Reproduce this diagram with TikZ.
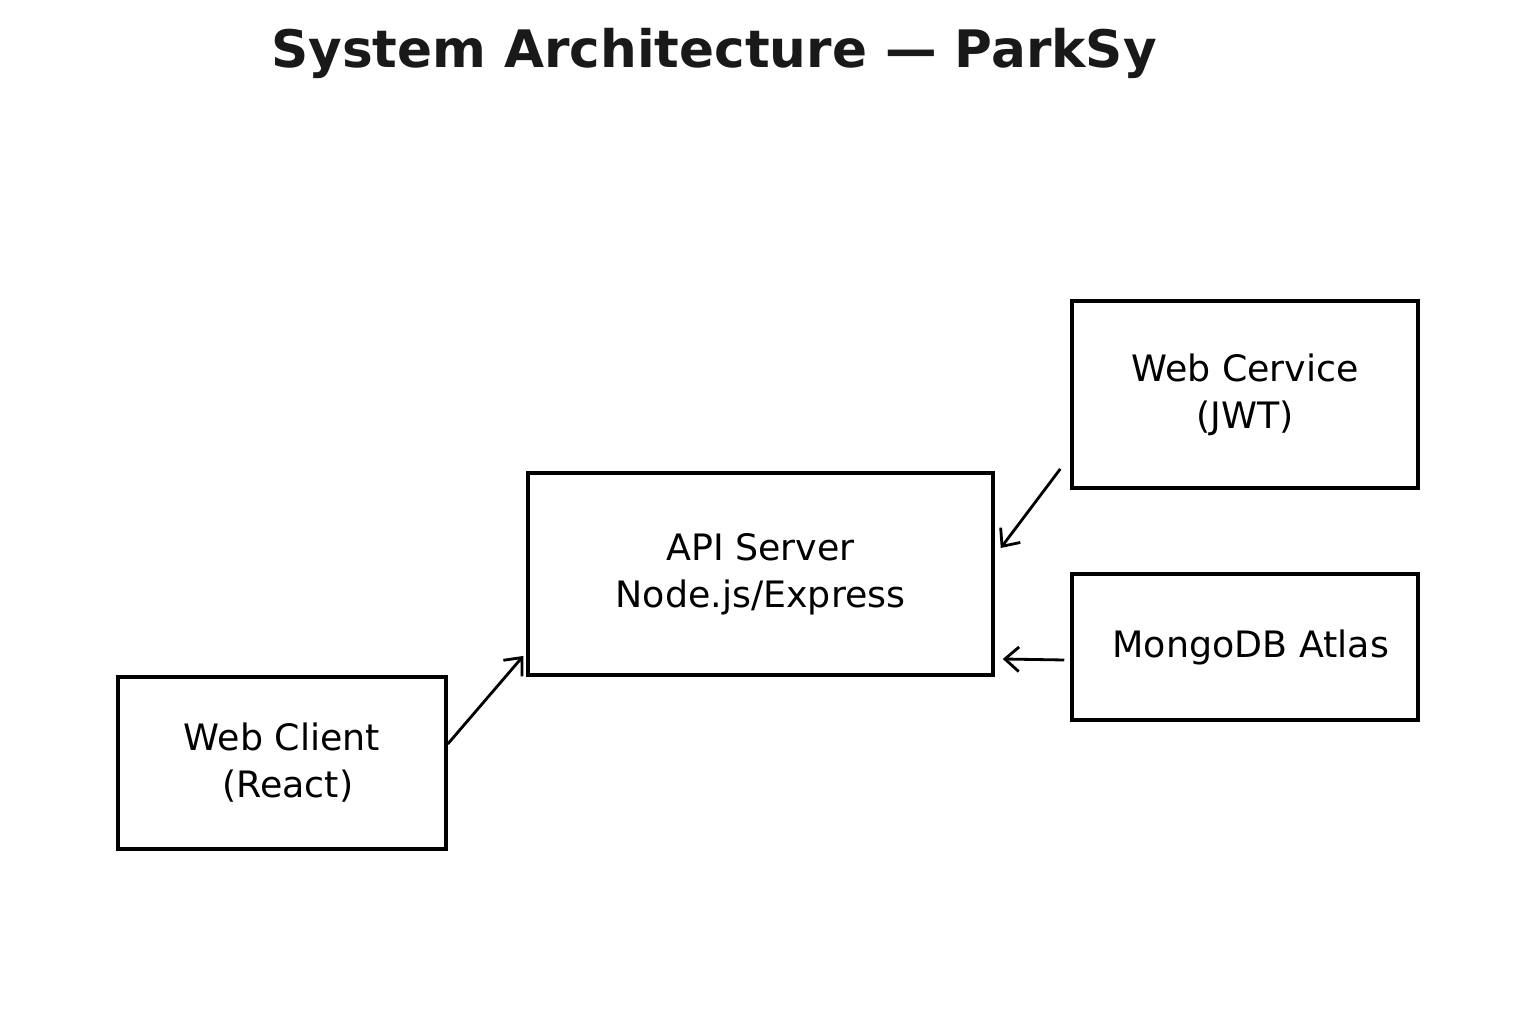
\documentclass[tikz,border=0pt]{standalone}
\usepackage{fontspec}
\setmainfont{DejaVu Sans}
\usetikzlibrary{arrows.meta}

\begin{document}
\begin{tikzpicture}[x=0.02cm,y=-0.02cm]
    \tikzstyle{every node}=[draw,rectangle,line width=2pt,align=center,
                            inner sep=0pt,
                            font=\fontsize{20.7pt}{26.7pt}\selectfont]
    \tikzstyle{link}=[line width=1.6pt,-{Straight Barb[length=8pt,width=14pt]}]

    % page frame
    \useasboundingbox (0,0) rectangle (1536,1024);

    % Title
    \node (title) [draw=none,text=black!90,
                   font=\fontsize{29.4pt}{36pt}\selectfont\bfseries]
        at (714,53) {System Architecture — ParkSy};

    % The four blocks
    \node (client) [minimum width=328*0.02cm,minimum height=172*0.02cm]
        at (282,763) {Web Client\\ \ (React)};
    \node (api) [minimum width=465*0.02cm,minimum height=202*0.02cm]
        at (760.5,574) {API Server\\Node.js/Express};
    \node (auth) [minimum width=346*0.02cm,minimum height=187*0.02cm]
        at (1245,394.5) {Web Cervice\\(JWT)};
    \node (db) [minimum width=346*0.02cm,minimum height=146*0.02cm]
        at (1245,647) {\ MongoDB Atlas};

    % Connectors into the API server
    \draw[link] ([yshift=0.38cm]client.east)
        -- ([xshift=-0.06cm,yshift=-1.64cm]api.west);
    \draw[link] ([xshift=-0.2cm,yshift=-1.49cm]auth.west)
        -- ([xshift=0.12cm,yshift=0.52cm]api.east);
    \draw[link] ([xshift=-0.12cm,yshift=-0.26cm]db.west)
        -- ([xshift=0.16cm,yshift=-1.7cm]api.east);

\end{tikzpicture}
\end{document}
